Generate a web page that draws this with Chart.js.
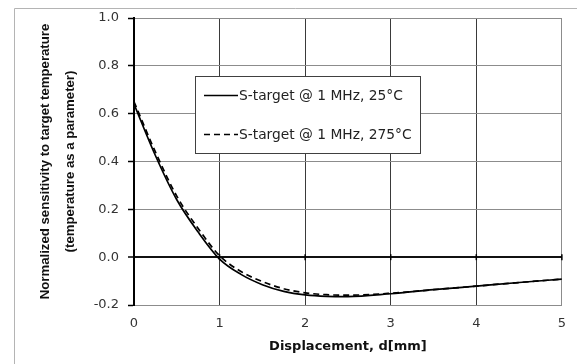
<!DOCTYPE html>
<html>
<head>
<meta charset="utf-8">
<script src="https://cdn.jsdelivr.net/npm/chart.js@4/dist/chart.umd.min.js"></script>
<style>
  html, body { margin: 0; padding: 0; background: #fff; }
  canvas { display: block; }
</style>
</head>
<body>
<canvas id="c" width="577" height="364"></canvas>
<script>
// Displacement d [mm]
const dispMm = [0, 0.25, 0.5, 0.75, 1.0, 1.25, 1.5, 1.75, 2.0, 2.25, 2.5, 3.0, 3.5, 4.0, 4.5, 5.0];
// S-target @ 1 MHz, 25°C (solid)
const sens25C = [0.64, 0.425, 0.24, 0.105, -0.008, -0.072, -0.115, -0.143, -0.158, -0.164, -0.165, -0.153, -0.136, -0.121, -0.106, -0.092];
// S-target @ 1 MHz, 275°C (dashed)
const sens275C = [0.65, 0.44, 0.255, 0.12, 0.006, -0.06, -0.102, -0.132, -0.149, -0.157, -0.159, -0.151, -0.136, -0.121, -0.106, -0.092];

const seriesLabels = ['S-target @ 1 MHz, 25°C', 'S-target @ 1 MHz, 275°C'];
const xTitle = 'Displacement, d[mm]';
const yTitle = ['Normalized sensitivity to target temperature', '(temperature as a parameter)'];
const xTickRange = [0, 5];
const yTickRange = [-0.2, 1.0];

const toPts = (ys) => dispMm.map((x, i) => ({ x: x, y: ys[i] }));
const isZero = v => Math.abs(v) < 1e-9;

const outerFrame = {
  id: 'outerFrame',
  beforeDraw(chart) {
    const ctx = chart.ctx;
    ctx.save();
    ctx.strokeStyle = '#b4b4b4';
    ctx.lineWidth = 1;
    ctx.beginPath();
    ctx.moveTo(14.5, 364);
    ctx.lineTo(14.5, 8.5);
    ctx.lineTo(577, 8.5);
    ctx.stroke();
    ctx.restore();
  }
};

const zeroTicks = {
  id: 'zeroTicks',
  afterDraw(chart) {
    const ctx = chart.ctx;
    const xs = chart.scales.x, ys = chart.scales.y;
    const y0 = ys.getPixelForValue(0);
    ctx.save();
    ctx.strokeStyle = '#000';
    ctx.lineWidth = 1.5;
    xs.ticks.forEach(t => {
      const px = xs.getPixelForValue(t.value);
      ctx.beginPath();
      ctx.moveTo(px, y0 - 3);
      ctx.lineTo(px, y0 + 3);
      ctx.stroke();
    });
    ctx.restore();
  }
};

const boxLegend = {
  id: 'boxLegend',
  afterDraw(chart) {
    const ctx = chart.ctx;
    const bx = 195, by = 76, bw = 225, bh = 77;
    ctx.save();
    ctx.fillStyle = '#fff';
    ctx.fillRect(bx, by, bw, bh);
    ctx.strokeStyle = '#404040';
    ctx.lineWidth = 1;
    ctx.strokeRect(bx + 0.5, by + 0.5, bw, bh);
    const rows = [95.5, 134.5];
    chart.data.datasets.forEach((ds, i) => {
      const yy = rows[i];
      ctx.strokeStyle = ds.borderColor;
      ctx.lineWidth = ds.borderWidth;
      ctx.setLineDash(ds.borderDash || []);
      ctx.beginPath();
      ctx.moveTo(204, yy);
      ctx.lineTo(238, yy);
      ctx.stroke();
      ctx.setLineDash([]);
      ctx.fillStyle = '#222';
      ctx.font = '13.8px "DejaVu Sans"';
      ctx.textBaseline = 'middle';
      ctx.textAlign = 'left';
      ctx.fillText(ds.label, 239, yy + 1);
    });
    ctx.restore();
  }
};

new Chart(document.getElementById('c'), {
  type: 'line',
  data: {
    datasets: [
      {
        label: seriesLabels[0],
        data: toPts(sens25C),
        borderColor: '#000',
        borderWidth: 1.7,
        pointRadius: 0,
        fill: false,
        cubicInterpolationMode: 'monotone'
      },
      {
        label: seriesLabels[1],
        data: toPts(sens275C),
        borderColor: '#000',
        borderWidth: 1.7,
        borderDash: [6, 4],
        pointRadius: 0,
        fill: false,
        cubicInterpolationMode: 'monotone'
      }
    ]
  },
  options: {
    responsive: false,
    animation: false,
    devicePixelRatio: 1,
    layout: { padding: { top: 18, right: 15, left: 0, bottom: 0 } },
    plugins: {
      legend: { display: false },
      tooltip: { enabled: false }
    },
    scales: {
      x: {
        type: 'linear',
        min: xTickRange[0],
        max: xTickRange[1],
        afterFit: s => { s.height = 59; },
        ticks: {
          stepSize: 1,
          color: '#333',
          font: { family: 'DejaVu Sans', size: 13 },
          padding: 11,
          maxRotation: 0
        },
        grid: {
          drawTicks: false,
          color: ctx => {
            const v = ctx.tick ? ctx.tick.value : null;
            if (v === xTickRange[0]) return 'rgba(0,0,0,0)';
            if (v === xTickRange[1]) return '#8c8c8c';
            return '#3a3a3a';
          },
          lineWidth: 1
        },
        border: { color: '#8c8c8c', width: 1 },
        title: {
          display: true,
          text: xTitle,
          color: '#111',
          font: { family: 'DejaVu Sans', size: 13, weight: 'bold', lineHeight: '16px' },
          padding: { top: 0, bottom: 9 }
        }
      },
      y: {
        type: 'linear',
        min: yTickRange[0],
        max: yTickRange[1],
        afterFit: s => { s.width = 134; },
        ticks: {
          stepSize: 0.2,
          color: '#333',
          font: { family: 'DejaVu Sans', size: 13 },
          padding: 9,
          callback: v => (isZero(v) ? 0 : Number(v)).toFixed(1)
        },
        grid: {
          drawTicks: true,
          tickLength: 6,
          tickColor: '#000',
          tickWidth: 1.5,
          color: ctx => {
            const v = ctx.tick ? ctx.tick.value : null;
            if (v !== null && isZero(v)) return '#111';
            if (v !== null && isZero(v - yTickRange[0])) return 'rgba(0,0,0,0)';
            return '#8c8c8c';
          },
          lineWidth: ctx => (ctx.tick && isZero(ctx.tick.value)) ? 2 : 1
        },
        border: { color: '#000', width: 2 },
        title: {
          display: true,
          text: yTitle,
          color: '#111',
          font: { family: '"Liberation Sans"', size: 13.2, weight: 'bold', lineHeight: '25px' },
          padding: { top: 33, bottom: 0 }
        }
      }
    }
  },
  plugins: [outerFrame, zeroTicks, boxLegend]
});
</script>
</body>
</html>
